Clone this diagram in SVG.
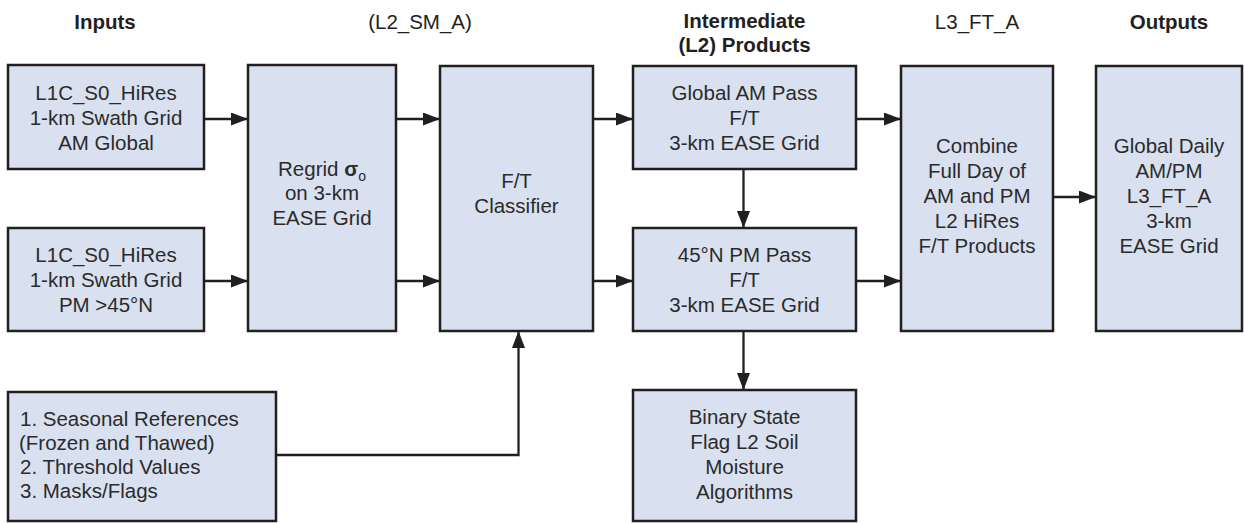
<svg xmlns="http://www.w3.org/2000/svg" width="1244" height="523" viewBox="0 0 1244 523">
<style>
.box{fill:#d9e0ef;stroke:#231f20;stroke-width:2.5}
.t{font-family:"Liberation Sans",Arial,Helvetica,sans-serif;font-size:20.5px;fill:#2b2b2b;text-anchor:middle}
.l{text-anchor:start}
.h{font-family:"Liberation Sans",Arial,Helvetica,sans-serif;font-size:20.5px;fill:#231f20;text-anchor:middle}
.b{font-weight:bold}
.c{fill:none;stroke:#231f20;stroke-width:2.3}
</style>
<defs>
<marker id="ah" markerUnits="userSpaceOnUse" markerWidth="18" markerHeight="14" refX="17" refY="6.5" orient="auto">
<path d="M0,0 L17,6.5 L0,13 Z" fill="#231f20"/>
</marker>
</defs>
<g id="headers">
<text class="h b" x="105" y="29">Inputs</text>
<text class="h" x="420" y="29">(L2_SM_A)</text>
<text class="h b" x="744.5" y="28">Intermediate</text>
<text class="h b" x="744.5" y="52">(L2) Products</text>
<text class="h" x="977" y="29">L3_FT_A</text>
<text class="h b" x="1169" y="29">Outputs</text>
</g>
<g id="connectors">
<path class="c" d="M204,119 H248" marker-end="url(#ah)"/>
<path class="c" d="M204,281 H248" marker-end="url(#ah)"/>
<path class="c" d="M396,119 H440" marker-end="url(#ah)"/>
<path class="c" d="M396,281 H440" marker-end="url(#ah)"/>
<path class="c" d="M593,119 H633" marker-end="url(#ah)"/>
<path class="c" d="M593,281 H633" marker-end="url(#ah)"/>
<path class="c" d="M743.5,169 V228" marker-end="url(#ah)"/>
<path class="c" d="M743.5,331 V390" marker-end="url(#ah)"/>
<path class="c" d="M856,119 H901" marker-end="url(#ah)"/>
<path class="c" d="M856,281 H901" marker-end="url(#ah)"/>
<path class="c" d="M1053,197 H1096" marker-end="url(#ah)"/>
<path class="c" d="M276,455 H518.5 V331" marker-end="url(#ah)"/>
</g>
<g id="in-am">
<rect class="box" x="8" y="65" width="196" height="104"/>
<text class="t" x="106" y="100">L1C_S0_HiRes</text>
<text class="t" x="106" y="125">1-km Swath Grid</text>
<text class="t" x="106" y="150">AM Global</text>
</g>
<g id="in-pm">
<rect class="box" x="8" y="228" width="196" height="103"/>
<text class="t" x="106" y="262">L1C_S0_HiRes</text>
<text class="t" x="106" y="287">1-km Swath Grid</text>
<text class="t" x="106" y="312">PM &gt;45°N</text>
</g>
<g id="regrid">
<rect class="box" x="248" y="65" width="148" height="266"/>
<text class="t" x="322" y="176">Regrid <tspan font-weight="bold">σ</tspan><tspan font-size="14" dy="5">o</tspan></text>
<text class="t" x="322" y="200">on 3-km</text>
<text class="t" x="322" y="225">EASE Grid</text>
</g>
<g id="classifier">
<rect class="box" x="440" y="66" width="153" height="265"/>
<text class="t" x="516.5" y="188">F/T</text>
<text class="t" x="516.5" y="213">Classifier</text>
</g>
<g id="am-pass">
<rect class="box" x="633" y="66" width="223" height="103"/>
<text class="t" x="744.5" y="100">Global AM Pass</text>
<text class="t" x="744.5" y="125">F/T</text>
<text class="t" x="744.5" y="150">3-km EASE Grid</text>
</g>
<g id="pm-pass">
<rect class="box" x="633" y="228" width="223" height="103"/>
<text class="t" x="744.5" y="262">45°N PM Pass</text>
<text class="t" x="744.5" y="287">F/T</text>
<text class="t" x="744.5" y="312">3-km EASE Grid</text>
</g>
<g id="binary">
<rect class="box" x="633" y="390" width="223" height="131"/>
<text class="t" x="744.5" y="424">Binary State</text>
<text class="t" x="744.5" y="449">Flag L2 Soil</text>
<text class="t" x="744.5" y="474">Moisture</text>
<text class="t" x="744.5" y="499">Algorithms</text>
</g>
<g id="combine">
<rect class="box" x="901" y="66" width="152" height="265"/>
<text class="t" x="977" y="153">Combine</text>
<text class="t" x="977" y="178">Full Day of</text>
<text class="t" x="977" y="203">AM and PM</text>
<text class="t" x="977" y="228">L2 HiRes</text>
<text class="t" x="977" y="253">F/T Products</text>
</g>
<g id="outputs">
<rect class="box" x="1096" y="66" width="146" height="265"/>
<text class="t" x="1169" y="153">Global Daily</text>
<text class="t" x="1169" y="178">AM/PM</text>
<text class="t" x="1169" y="203">L3_FT_A</text>
<text class="t" x="1169" y="228">3-km</text>
<text class="t" x="1169" y="253">EASE Grid</text>
</g>
<g id="seasonal">
<rect class="box" x="8" y="392" width="268" height="129"/>
<text class="t l" x="20" y="426">1. Seasonal References</text>
<text class="t l" x="19" y="450">(Frozen and Thawed)</text>
<text class="t l" x="20" y="474">2. Threshold Values</text>
<text class="t l" x="20" y="498">3. Masks/Flags</text>
</g>
</svg>
